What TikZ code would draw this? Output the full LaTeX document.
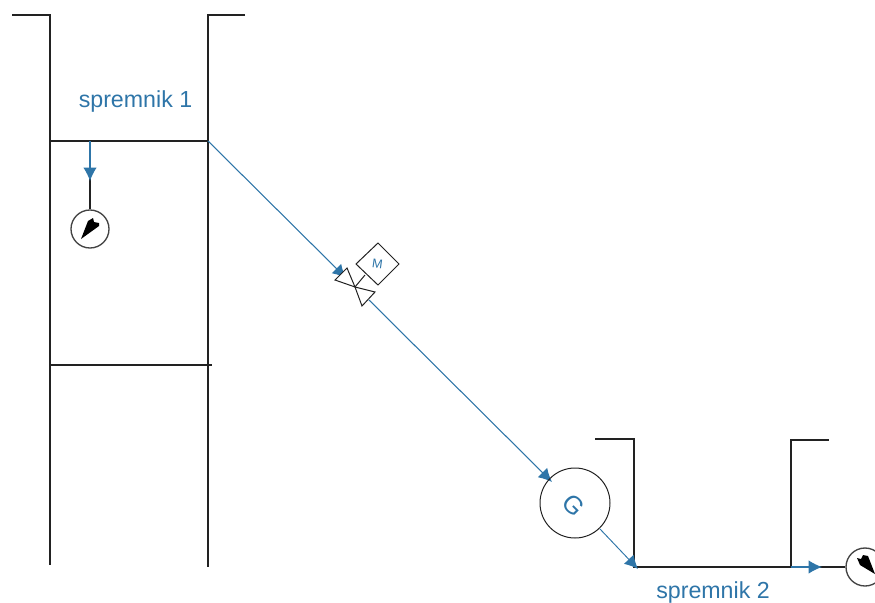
\documentclass[tikz,border=0pt]{standalone}
\usepackage{fontspec}
\setmainfont{Liberation Sans}
\usetikzlibrary{arrows.meta}
\definecolor{pipe}{HTML}{2E75A8}
\definecolor{wall}{HTML}{222222}
\tikzset{
 wallline/.style={draw=wall,line width=0.95pt},
 flow/.style={draw=pipe,line width=0.8pt,-{Latex[length=10pt,width=10pt,fill=pipe]}},
 flowthin/.style={draw=pipe,line width=0.7pt,-{Latex[length=10pt,width=10pt,fill=pipe]}},
 gaugebody/.style={circle,draw=wall!85,line width=1pt,minimum size=28.5pt,inner sep=0pt,fill=white},
 gennode/.style={circle,draw=wall,line width=0.75pt,minimum size=52.5pt,inner sep=0pt},
 motor/.style={draw=wall,line width=0.75pt,fill=white},
 valvepart/.style={draw=wall,line width=0.75pt,fill=white},
 label/.style={text=pipe,font=\fontsize{17.4pt}{20pt}\selectfont,inner sep=0pt},
 needle/.style={fill=black,draw=none}
}
\begin{document}
\begin{tikzpicture}[x=0.75pt,y=-0.75pt]
\useasboundingbox (0,0) rectangle (875,603);
% named points
\coordinate (t1a) at (12,15); \coordinate (t1b) at (50,15); \coordinate (t1c) at (50,565);
\coordinate (t1d) at (245,15); \coordinate (t1e) at (208,15); \coordinate (t1f) at (208,567);
\coordinate (l1) at (50,141); \coordinate (l1r) at (208,141);
\coordinate (l2) at (50,365); \coordinate (l2r) at (212,365);
\coordinate (tap) at (90,141); \coordinate (tapend) at (90,181); \coordinate (tapjoin) at (90,176);
\coordinate (t2a) at (595,439); \coordinate (t2b) at (634,439); \coordinate (t2c) at (634,567);
\coordinate (t2d) at (791,567); \coordinate (t2e) at (791,440); \coordinate (t2f) at (829,440);
\coordinate (outend) at (822,567); \coordinate (outjoin) at (817,567);
\coordinate (vc) at (355,287);
\coordinate (vin) at (346,278); \coordinate (vout) at (369,300);
\coordinate (gin) at (552,482); \coordinate (gout) at (600,529); \coordinate (tk2) at (638,569);
% tanks
\draw[wallline] (t1a) -- (t1b) -- (t1c);
\draw[wallline] (t1d) -- (t1e) -- (t1f);
\draw[wallline] (l1) -- (l1r);
\draw[wallline] (l2) -- (l2r);
\draw[wallline] (t2a) -- (t2b) -- (t2c) -- (t2d) -- (t2e) -- (t2f);
% gauges
\node[gaugebody] (g1) at (90,229) {};
\node[gaugebody] (g2) at (865,567) {};
\draw[wallline] (tapjoin) -- (g1);
\draw[wallline] (outjoin) -- (g2);
\fill[needle] (81,239) -- (88,221) -- (93,218) -- (94,222) -- (99,223) -- (99,226) -- cycle;
\fill[needle] (875,574) -- (860,565) -- (857,558) -- (861,559) -- (863,555) -- (868,556) -- cycle;
% flows
\draw[flow] (tap) -- (tapend);
\draw[flow] (l1r) -- (vin);
\draw[flow] (vout) -- (gin);
\draw[flowthin] (gout) -- (tk2);
\draw[flow] (t2d) -- (outend);
% valve
\draw[valvepart] (347,268) -- (335,280) -- (vc) -- cycle;
\draw[valvepart] (vc) -- (375,292) -- (362,306) -- cycle;
\draw[valvepart] (vc) -- (365,275);
\draw[motor] (378,243) -- (399,264) -- (378,285) -- (356,264) -- cycle;
\node[text=pipe,font=\fontsize{9.5pt}{11pt}\selectfont,inner sep=0pt,rotate=-8] (m) at (377.5,264) {M};
% generator
\node[gennode] (gen) at (575,503) {};
\node[text=pipe,font=\fontsize{19pt}{22pt}\selectfont,inner sep=0pt,rotate=-45] (gl) at (574,505) {G};
% labels
\node[label] (s1) at (135.5,102) {spremnik 1};
\node[label] (s2) at (713,592) {spremnik 2};
\end{tikzpicture}
\end{document}
